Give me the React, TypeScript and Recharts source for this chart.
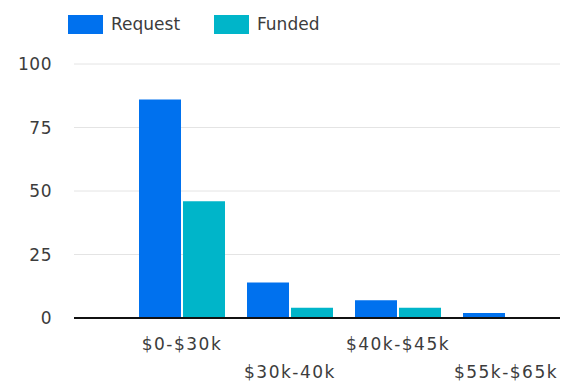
import { BarChart, Bar, XAxis, YAxis, CartesianGrid, Legend } from 'recharts';

const categories = ['$0-$30k', '$30k-40k', '$40k-$45k', '$55k-$65k'];
const requestValues = [86, 14, 7, 2];
const fundedValues = [46, 4, 4, 0];
const yTicks = [0, 25, 50, 75, 100];

const REQUEST_COLOR = '#0071EE';
const FUNDED_COLOR = '#00B5C9';
const FONT = '"DejaVu Sans", sans-serif';
const TEXT_COLOR = '#3c3c3c';

const data = categories.map((name, i) => ({
  name,
  request: requestValues[i],
  funded: fundedValues[i],
}));

// staggered labels so the long ranges don't collide
function StaggeredTick(props: any) {
  const { x, y, payload, index } = props;
  const dy = index % 2 === 0 ? 24 : 52;
  return (
    <text
      x={x}
      y={y + dy}
      textAnchor="middle"
      fill={TEXT_COLOR}
      fontSize={17}
      letterSpacing={1.5}
      fontFamily={FONT}
    >
      {payload.value}
    </text>
  );
}

function LegendContent() {
  const items = [
    { label: 'Request', color: REQUEST_COLOR, width: 146 },
    { label: 'Funded', color: FUNDED_COLOR, width: 140 },
  ];
  return (
    <div style={{ display: 'flex', alignItems: 'center', fontFamily: FONT, fontSize: 17, color: TEXT_COLOR }}>
      {items.map((it) => (
        <div key={it.label} style={{ display: 'flex', alignItems: 'center', width: it.width }}>
          <span style={{ width: 35, height: 19, background: it.color, display: 'inline-block', marginRight: 8 }} />
          <span>{it.label}</span>
        </div>
      ))}
    </div>
  );
}

export default function App() {
  return (
    <div style={{ position: 'absolute', left: 0, top: 0, width: 568, height: 381, background: '#fff' }}>
      <BarChart
        width={568}
        height={381}
        data={data}
        margin={{ top: 24, right: 8, left: 0, bottom: 33 }}
        barCategoryGap={11}
        barGap={2}
      >
        <Legend
          verticalAlign="top"
          height={40}
          content={<LegendContent />}
          wrapperStyle={{ top: 14, left: 68, width: 400 }}
        />
        <CartesianGrid vertical={false} stroke="#e4e4e4" />
        <XAxis
          dataKey="name"
          padding={{ left: 54, right: 0 }}
          axisLine={{ stroke: '#111', strokeWidth: 2 }}
          tickLine={false}
          interval={0}
          tick={<StaggeredTick />}
        />
        <YAxis
          width={74}
          domain={[0, 100]}
          ticks={yTicks}
          axisLine={false}
          tickLine={false}
          tickMargin={16}
          tick={{ fill: TEXT_COLOR, fontSize: 17, fontFamily: FONT, letterSpacing: 0.5 }}
        />
        <Bar dataKey="request" name="Request" fill={REQUEST_COLOR} isAnimationActive={false} />
        <Bar dataKey="funded" name="Funded" fill={FUNDED_COLOR} isAnimationActive={false} />
      </BarChart>
    </div>
  );
}
